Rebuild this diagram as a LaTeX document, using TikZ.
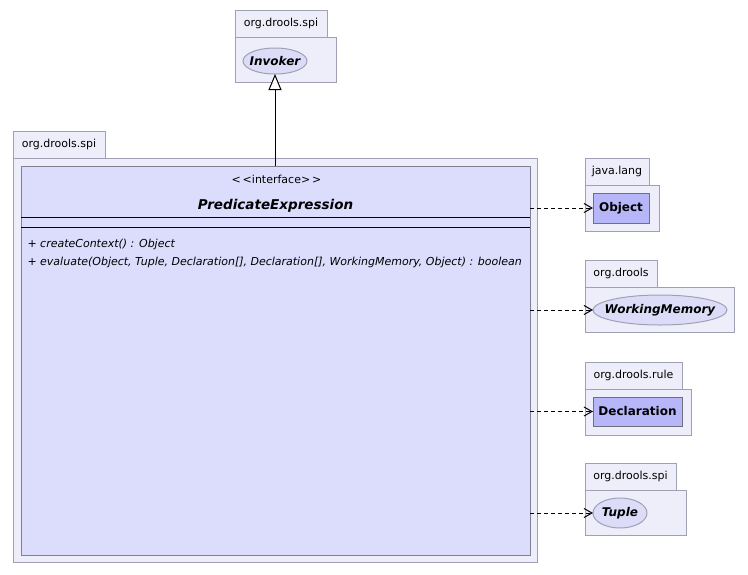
\documentclass[tikz,border=0pt]{standalone}
\usepackage{fontspec}
\setmainfont{DejaVu Sans}
\usetikzlibrary{arrows.meta,shapes.geometric}
\definecolor{pkgfill}{RGB}{238,238,250}
\definecolor{pkgline}{RGB}{160,160,180}
\definecolor{classfill}{RGB}{220,220,252}
\definecolor{refclassfill}{RGB}{182,182,248}
\definecolor{ifacefill}{RGB}{220,220,248}
\tikzstyle{pkgtab}=[rectangle,draw=pkgline,fill=pkgfill,anchor=north west,inner sep=0pt,outer sep=0pt,minimum height=27,font=\fontsize{11}{13}\selectfont]
\tikzstyle{pkgbody}=[rectangle,draw=pkgline,fill=pkgfill,anchor=north west,inner sep=0pt,outer sep=0pt]
\tikzstyle{classbox}=[rectangle,draw=pkgline!80!black,fill=classfill,inner sep=0pt,outer sep=0pt]
\tikzstyle{refclass}=[rectangle,draw=pkgline!70!black,fill=refclassfill,inner sep=0pt,outer sep=0pt,minimum height=30,font=\fontsize{12}{14}\selectfont\bfseries]
\tikzstyle{iface}=[ellipse,draw=pkgline,fill=ifacefill,inner sep=0pt,outer sep=0pt]
\tikzstyle{ifacename}=[inner sep=0pt,font=\fontsize{12}{14}\selectfont\bfseries\itshape]
\tikzstyle{dependency}=[black,dash pattern=on 4pt off 3pt,-{Straight Barb[length=8pt,width=9pt]}]
\tikzstyle{generalization}=[black,-{Triangle[open,fill=white,length=16pt,width=13pt]}]
\newcommand{\umlpackage}[7]{% name, left, top, tab width, body width, body height, label
  \node[pkgtab,minimum width=#4] (#1tab) at (#2,#3) {#7};
  \node[pkgbody,minimum width=#5,minimum height=#6] (#1) at (#1tab.south west) {};
}
\newcommand{\method}[2]{% name, y, text
  \node[anchor=west,inner sep=0pt,font=\fontsize{11}{13}\selectfont\itshape] (#1) at (27,#2)
}
\newcommand{\interface}[6]{% name, x, y, width, height, label
  \node[iface,minimum width=#4,minimum height=#5] (#1) at (#2,#3) {};
  \node[ifacename] (#1name) at (#1) {#6};
}

\begin{document}
\begin{tikzpicture}[x=1pt,y=-1pt,line width=1pt]
	\useasboundingbox (0,0) rectangle (748,574);
	% packages
	\umlpackage{invpkg}{235}{10}{92}{101}{45}{org.drools.spi}
	\umlpackage{mainpkg}{13}{131}{92}{524}{404}{org.drools.spi}
	\umlpackage{langpkg}{585}{158}{64}{74}{46}{java.lang}
	\umlpackage{droolspkg}{585}{260}{72}{149}{45}{org.drools}
	\umlpackage{rulepkg}{585}{362}{97}{106}{46}{org.drools.rule}
	\umlpackage{tuplepkg}{585}{463}{91}{101}{45}{org.drools.spi}
	% the interface
	\node[classbox,minimum width=509,minimum height=389] (main) at (275.5,360.5) {};
	\node[font=\fontsize{11}{13}\selectfont] (stereo) at (276.5,179) {<\,<interface>\,>};
	\node[font=\fontsize{13.5}{16}\selectfont\bfseries\itshape] (mainname) at (275.5,206) {PredicateExpression};
	\draw (main.west |- 0,217) -- (main.east |- 0,217);
	\draw (main.west |- 0,227) -- (main.east |- 0,227);
	\method{create}{244}{+ createContext() : Object};
	\method{evaluate}{262}{+ evaluate(Object, Tuple, Declaration[], Declaration[], WorkingMemory, Object) : boolean};
	% used classes
	\interface{inv}{275}{61}{64}{26}{Invoker}
	\node[refclass,minimum width=56] (obj) at (621,208) {Object};
	\interface{wm}{660}{310}{134}{30}{WorkingMemory}
	\node[refclass,minimum width=89,minimum height=29] (decl) at (637.5,411.5) {Declaration};
	\interface{tuple}{620}{513}{54}{30}{Tuple}
	% connectors
	\draw[generalization] (inv.south |- main.north) -- (inv.south);
	\draw[dependency] (main.east |- obj.west) -- (obj.west);
	\draw[dependency] (main.east |- wm.west) -- (wm.west);
	\draw[dependency] (main.east |- decl.west) -- (decl.west);
	\draw[dependency] (main.east |- tuple.west) -- (tuple.west);
\end{tikzpicture}
\end{document}
